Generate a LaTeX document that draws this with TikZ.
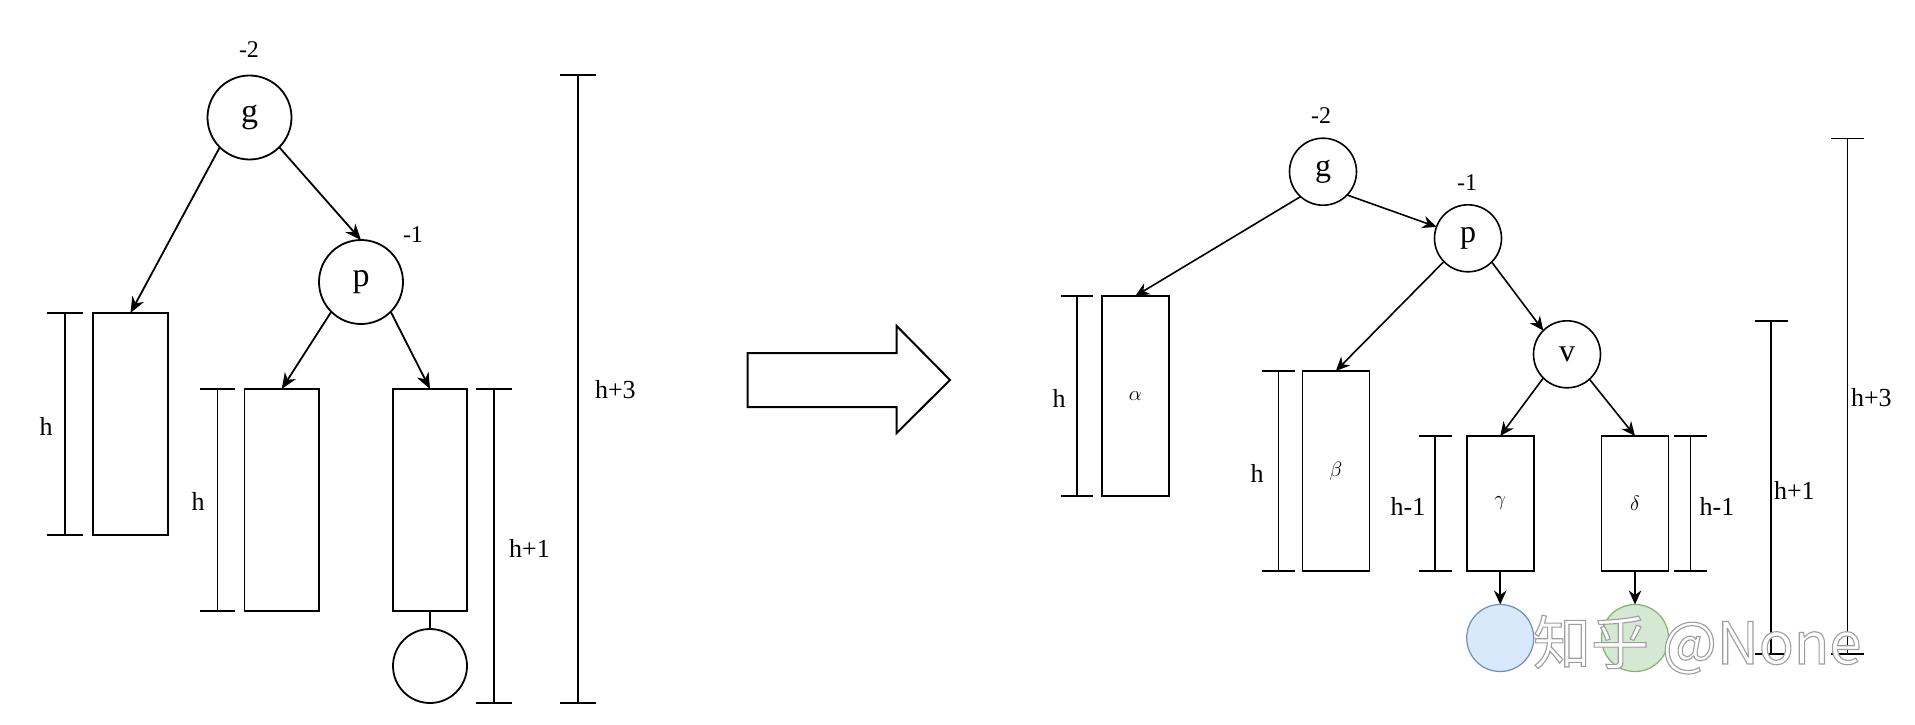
\documentclass[tikz,border=0pt]{standalone}
\usepackage{fontspec}
\setmainfont{Liberation Serif}
\newfontfamily\cjk{Noto Sans CJK SC}
\usetikzlibrary{arrows.meta}
\definecolor{bluefill}{HTML}{DAE8FC}
\definecolor{bluedraw}{HTML}{6C8EBF}
\definecolor{greenfill}{HTML}{D5E8D4}
\definecolor{greendraw}{HTML}{82B366}
\newcommand\dimbar[5]{\draw[#5] (#1,#2) -- (#1,#3) (#1-#4,#2) -- (#1+#4,#2) (#1-#4,#3) -- (#1+#4,#3);}
\newcommand\outlinetext[1]{\special{pdf:code q 2 Tr 0.62 G 1 g 1.1 w}#1\special{pdf:code Q}}
\begin{document}
\begin{tikzpicture}[x=1pt,y=-1pt,
  every node/.style={inner sep=0pt, outer sep=0pt},
  lw/.style={line width=1.8pt},
  rw/.style={line width=1.6pt},
  cnodeL/.style={circle, draw, lw, minimum size=84pt, font=\fontsize{34}{36}\selectfont},
  cnodeR/.style={circle, draw, rw, minimum size=67pt, font=\fontsize{32}{34}\selectfont},
  rectL/.style={rectangle, draw, lw, minimum width=74.5pt, minimum height=222pt},
  rectR/.style={rectangle, draw, rw, minimum width=67pt, font=\fontsize{21}{24}\selectfont},
  lab/.style={font=\fontsize{26}{28}\selectfont},
  bal/.style={font=\fontsize{24}{26}\selectfont},
  arrL/.style={lw, -{Stealth[length=16pt, width=13pt, inset=5pt]}},
  arrR/.style={rw, -{Stealth[length=14pt, width=12.5pt, inset=4.5pt]}},
  dimL/.style={lw},
  dimR/.style={rw},
  bigarrow/.style={line width=2pt, line join=miter}
]
\useasboundingbox (0,0) rectangle (1915,725);

% ---------------- left tree ----------------
\node[cnodeL] (gL) at (249.5,117.5) {g};
\node[cnodeL] (pL) at (361,282) {p};
\node[bal] (m2L) at (249,50) {-2};
\node[bal] (m1L) at (413,235) {-1};
\node[rectL] (aL) at (130.5,424) {};
\node[rectL] (bL) at (281.75,500) {};
\node[rectL] (cL) at (430,500) {};
\node[circle, draw, lw, minimum size=74pt] (nL) at (430,666) {};

\draw[arrL] (gL.225) -- (aL.north);
\draw[arrL] (gL.-45) -- (pL.north);
\draw[arrL] (pL.225) -- (bL.north);
\draw[arrL] (pL.-45) -- (cL.north);
\draw[lw] (cL.south) -- (nL.north);

\dimbar{65}{313}{535}{18}{dimL}
\dimbar{217.5}{389}{611}{17.5}{dimL}
\dimbar{494}{389}{703}{18}{dimL}
\dimbar{578}{75}{703}{18}{dimL}
\node[lab] (hL1) at (46,426) {h};
\node[lab] (hL2) at (198,501) {h};
\node[lab] (hL3) at (529.5,548) {h+1};
\node[lab, anchor=west] (hL4) at (595,390) {h+3};

% ---------------- big arrow ----------------
\draw[bigarrow] (747.7,353) -- (896.7,353) -- (896.7,326) -- (950,380)
  -- (896.7,433) -- (896.7,407) -- (747.7,407) -- cycle;

% ---------------- right tree ----------------
\node[cnodeR] (gR) at (1323,171.7) {g};
\node[cnodeR] (pR) at (1468,238.3) {p};
\node[cnodeR] (vR) at (1567,354.3) {v};
\node[bal] (m2R) at (1321,116) {-2};
\node[bal] (m1R) at (1467,183) {-1};
\node[rectR, minimum height=200pt] (alR) at (1135.3,396) {$\alpha$};
\node[rectR, minimum height=200pt] (beR) at (1335.8,471) {$\beta$};
\node[rectR, minimum height=135pt] (gaR) at (1500.2,503.5) {$\gamma$};
\node[rectR, minimum height=135pt] (deR) at (1635,503.5) {$\delta$};
\node[circle, draw=bluedraw, fill=bluefill, line width=1.2pt, minimum size=67pt] (blR) at (1500.2,638) {};
\node[circle, draw=greendraw, fill=greenfill, line width=1.2pt, minimum size=67pt] (grR) at (1635,638) {};

\draw[arrR] (gR.228) -- (alR.north);
\draw[arrR] (gR.-44) -- (pR.160);
\draw[arrR] (pR.224) -- (beR.north);
\draw[arrR] (pR.-45) -- (vR.135);
\draw[arrR] (vR.225) -- (gaR.north);
\draw[arrR] (vR.-48) -- (deR.north);
\draw[arrR] (gaR.south) -- (blR.north);
\draw[arrR] (deR.south) -- (grR.north);

\dimbar{1077}{296}{496}{16}{dimR}
\dimbar{1278.5}{371}{571}{16.5}{dimR}
\dimbar{1435}{436}{571}{16.5}{dimR}
\dimbar{1690.5}{436}{571}{16.5}{dimR}
\dimbar{1771}{321}{654}{16.5}{dimR}
\dimbar{1847.5}{138.5}{654}{16.5}{dimR}
\node[lab] (hR1) at (1059,398) {h};
\node[lab] (hR2) at (1257,473) {h};
\node[lab] (hR3) at (1408,506) {h-1};
\node[lab] (hR4) at (1717,506) {h-1};
\node[lab, anchor=west] (hR5) at (1774,490) {h+1};
\node[lab, anchor=west] (hR6) at (1851,398) {h+3};

% ---------------- watermark ----------------
\node[font=\cjk\fontsize{58}{60}\selectfont, anchor=base west] (wm) at (1533,664) {\outlinetext{知乎 @None}};
\end{tikzpicture}
\end{document}
